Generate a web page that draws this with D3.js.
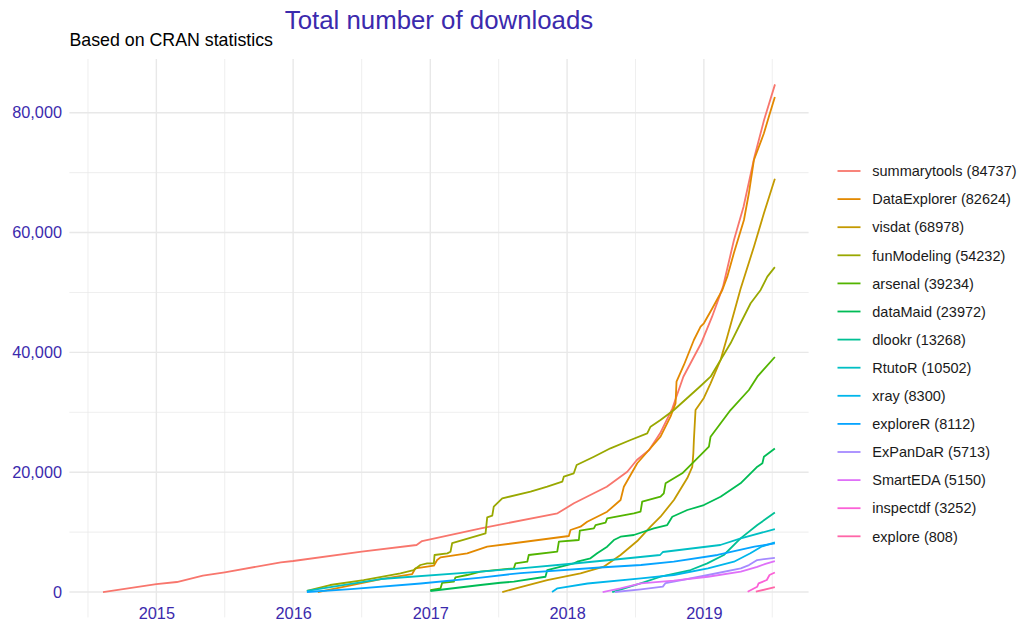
<!DOCTYPE html>
<html><head><meta charset="utf-8">
<script src="https://cdn.jsdelivr.net/npm/d3@7"></script>
<style>
body{margin:0;background:#fff;}
svg{display:block;}
text{font-family:"Liberation Sans", Arial, Helvetica, sans-serif;}
</style>
</head><body>
<svg id="chart" width="1020" height="642"></svg>
<script>
// ---------------- data (decimal year, cumulative downloads) ----------------
const packages = ["summarytools","DataExplorer","visdat","funModeling","arsenal","dataMaid","dlookr","RtutoR","xray","exploreR","ExPanDaR","SmartEDA","inspectdf","explore"];
const totals = [84737,82624,68978,54232,39234,23972,13268,10502,8300,8112,5713,5150,3252,808];
const yTickValues = [0,20000,40000,60000,80000];
const xTickYears = [2015,2016,2017,2018,2019];

const summarytools = [[2014.61,0],[2015.0,1300],[2015.15,1670],[2015.34,2720],[2015.5,3290],[2015.91,4960],[2016.0,5180],[2016.5,6730],[2016.9,7850],[2016.94,8510],[2017.37,10630],[2017.93,13140],[2018.05,14810],[2018.29,17580],[2018.44,20080],[2018.51,22040],[2018.6,23710],[2018.68,26490],[2018.77,30670],[2018.85,35940],[2018.98,41520],[2019.06,45960],[2019.14,50970],[2019.22,58760],[2019.29,64320],[2019.37,72670],[2019.44,78800],[2019.52,84737]];
const DataExplorer = [[2016.18,0],[2016.64,2170],[2016.868,3000],[2016.892,3960],[2017.026,4390],[2017.05,5340],[2017.075,5790],[2017.27,6460],[2017.416,7560],[2018.013,9350],[2018.025,10350],[2018.098,10900],[2018.147,11740],[2018.293,13410],[2018.391,15360],[2018.415,17580],[2018.513,21490],[2018.598,23710],[2018.683,25930],[2018.756,29270],[2018.793,31500],[2018.80,35110],[2018.854,37900],[2018.927,42070],[2018.976,44290],[2019.0,44860],[2019.062,47360],[2019.135,50420],[2019.171,52640],[2019.219,56540],[2019.293,62100],[2019.329,66560],[2019.366,72120],[2019.439,76570],[2019.475,79350],[2019.519,82624]];
const visdat = [[2017.526,0],[2017.66,830],[2017.855,2000],[2018.098,3120],[2018.268,4220],[2018.391,6180],[2018.513,8510],[2018.61,10900],[2018.683,12570],[2018.781,15360],[2018.879,19030],[2018.915,20870],[2018.923,23150],[2018.927,25370],[2018.939,30380],[2019.0,32390],[2019.049,34840],[2019.122,38730],[2019.171,42620],[2019.219,46530],[2019.268,50580],[2019.366,57640],[2019.439,63220],[2019.519,68978]];
const funModeling = [[2016.10,200],[2016.27,1170],[2016.514,2000],[2016.782,3120],[2016.879,3670],[2016.928,4510],[2016.977,4790],[2017.026,4790],[2017.031,6180],[2017.124,6460],[2017.148,6730],[2017.16,8180],[2017.404,9800],[2017.416,12470],[2017.453,12740],[2017.464,14240],[2017.526,15640],[2017.733,16740],[2017.855,17580],[2017.965,18410],[2017.976,19250],[2018.049,19820],[2018.07,21200],[2018.196,22590],[2018.317,23990],[2018.464,25370],[2018.586,26490],[2018.61,27600],[2018.683,28710],[2018.781,30380],[2018.903,32890],[2018.976,34390],[2019.049,35940],[2019.122,38730],[2019.195,41520],[2019.268,44860],[2019.342,48200],[2019.415,50420],[2019.464,52640],[2019.519,54232]];
const arsenal = [[2017.0,330],[2017.075,620],[2017.087,1550],[2017.172,1720],[2017.184,2450],[2017.27,2840],[2017.367,3390],[2017.611,3960],[2017.623,4790],[2017.709,5060],[2017.72,6180],[2017.928,6730],[2017.94,8400],[2018.086,8680],[2018.093,10230],[2018.196,10630],[2018.208,11180],[2018.281,11570],[2018.293,12300],[2018.488,13140],[2018.537,13410],[2018.549,15070],[2018.683,15910],[2018.707,16480],[2018.72,18150],[2018.842,19820],[2018.915,21490],[2018.988,23150],[2019.037,24260],[2019.049,25930],[2019.195,30380],[2019.329,33720],[2019.391,35940],[2019.519,39234]];
const dataMaid = [[2017.0,170],[2017.367,1170],[2017.513,1550],[2017.611,1720],[2017.842,2550],[2017.855,3670],[2018.049,4790],[2018.074,5060],[2018.171,5630],[2018.22,6460],[2018.293,7560],[2018.342,8680],[2018.391,9230],[2018.488,9520],[2018.634,10630],[2018.732,11180],[2018.769,12570],[2018.879,13690],[2019.0,14520],[2019.122,15910],[2019.268,18150],[2019.391,20920],[2019.428,21490],[2019.439,22590],[2019.519,23972]];
const dlookr = [[2018.33,0],[2018.537,1450],[2018.683,2550],[2018.903,3670],[2019.025,4790],[2019.146,6180],[2019.268,8960],[2019.391,11180],[2019.519,13268]];
const RtutoR = [[2016.10,200],[2016.64,2170],[2017.37,3390],[2017.66,3960],[2018.05,4760],[2018.39,5510],[2018.68,6180],[2018.70,6680],[2019.12,7850],[2019.27,8960],[2019.519,10502]];
const xray = [[2017.89,0],[2017.93,620],[2018.15,1420],[2018.54,2290],[2018.78,2840],[2019.03,3960],[2019.22,5060],[2019.34,6460],[2019.42,7560],[2019.519,8300]];
const exploreR = [[2016.10,0],[2016.42,500],[2016.93,1420],[2017.37,2420],[2017.66,3170],[2018.24,4090],[2018.54,4510],[2018.78,5060],[2019.10,6180],[2019.37,7560],[2019.519,8112]];
const ExPanDaR = [[2018.35,0],[2018.54,450],[2018.70,900],[2018.72,1500],[2018.78,1720],[2019.03,2840],[2019.27,3960],[2019.33,4500],[2019.39,5340],[2019.519,5713]];
const SmartEDA = [[2018.26,0],[2018.39,620],[2018.54,1450],[2018.78,1900],[2019.03,2550],[2019.27,3390],[2019.39,4200],[2019.45,4700],[2019.519,5150]];
const inspectdf = [[2019.32,50],[2019.39,880],[2019.40,1450],[2019.46,2000],[2019.48,2840],[2019.519,3252]];
const explore = [[2019.38,50],[2019.519,808]];

const seriesValues = [summarytools,DataExplorer,visdat,funModeling,arsenal,dataMaid,dlookr,RtutoR,xray,exploreR,ExPanDaR,SmartEDA,inspectdf,explore];

// ---------------- helpers ----------------
function yearToDate(y){
  const Y = Math.floor(y);
  const s = Date.UTC(Y,0,1), e = Date.UTC(Y+1,0,1);
  return new Date(s + (y - Y) * (e - s));
}
// R's hcl() (polar CIE-LUV) -> hex
function hclR(h, c, l){
  const Yn = 100, uN = 0.1978398, vN = 0.4683363;
  const hr = h * Math.PI / 180;
  const U = c * Math.cos(hr), V = c * Math.sin(hr);
  const Y = l > 7.999592 ? Yn * Math.pow((l + 16) / 116, 3) : Yn * l / 903.3;
  const u = U / (13 * l) + uN, v = V / (13 * l) + vN;
  const X = 9 * Y * u / (4 * v);
  const Z = -X / 3 - 5 * Y + 3 * Y / v;
  const gt = t => t > 0.00304 ? 1.055 * Math.pow(t, 1 / 2.4) - 0.055 : 12.92 * t;
  const cl = t => Math.round(255 * Math.max(0, Math.min(1, t)));
  const r = gt(( 3.240479 * X - 1.537150 * Y - 0.498535 * Z) / Yn);
  const g = gt((-0.969256 * X + 1.875992 * Y + 0.041556 * Z) / Yn);
  const b = gt(( 0.055648 * X - 0.204043 * Y + 1.057311 * Z) / Yn);
  return d3.rgb(cl(r), cl(g), cl(b)).formatHex();
}
const colors = packages.map((p, i) => hclR(15 + i * 360 / packages.length, 100, 65));

// ---------------- layout ----------------
const W = 1020, H = 642;
const panel = {left: 69.4, right: 808.6, top: 59, bottom: 617.4};
const accent = "#3b2aad";
const gridCol = "#e8e8e8";

const series = packages.map((name, i) => ({
  name, total: totals[i], color: colors[i],
  values: seriesValues[i].map(d => ({date: yearToDate(d[0]), value: d[1]}))
}));

const allDates = series.flatMap(s => s.values.map(v => v.date));
const [dMin, dMax] = d3.extent(allDates);
const span = dMax - dMin;
const x = d3.scaleUtc()
  .domain([new Date(+dMin - 0.05 * span), new Date(+dMax + 0.05 * span)])
  .range([panel.left, panel.right]);

const vMax = d3.max(series, s => d3.max(s.values, v => v.value));
const y = d3.scaleLinear()
  .domain([0 - 0.05 * vMax, vMax * 1.05])
  .range([panel.bottom, panel.top]);

const svg = d3.select("#chart");
svg.append("rect").attr("width", W).attr("height", H).attr("fill", "#fff");

// grid
const gGrid = svg.append("g");
const yMinor = [];
for (let i = 0; i < yTickValues.length + 1; i++) {
  const step = yTickValues[1] - yTickValues[0];
  const m = (i - 0.5) * step;
  if (m >= y.domain()[0] && m <= y.domain()[1]) yMinor.push(m);
}
const xMajor = xTickYears.map(yy => yearToDate(yy));
const xMinor = [];
for (let yy = xTickYears[0] - 1; yy <= xTickYears[xTickYears.length - 1]; yy++) {
  const a = Date.UTC(yy, 0, 1), b = Date.UTC(yy + 1, 0, 1);
  const m = new Date((a + b) / 2);
  if (m >= x.domain()[0] && m <= x.domain()[1]) xMinor.push(m);
}
gGrid.selectAll(".ymin").data(yMinor).join("line")
  .attr("x1", panel.left).attr("x2", panel.right)
  .attr("y1", d => y(d)).attr("y2", d => y(d))
  .attr("stroke", gridCol).attr("stroke-width", 0.75);
gGrid.selectAll(".xmin").data(xMinor).join("line")
  .attr("y1", panel.top).attr("y2", panel.bottom)
  .attr("x1", d => x(d)).attr("x2", d => x(d))
  .attr("stroke", gridCol).attr("stroke-width", 0.75);
gGrid.selectAll(".ymaj").data(yTickValues).join("line")
  .attr("x1", panel.left).attr("x2", panel.right)
  .attr("y1", d => y(d)).attr("y2", d => y(d))
  .attr("stroke", gridCol).attr("stroke-width", 1.4);
gGrid.selectAll(".xmaj").data(xMajor).join("line")
  .attr("y1", panel.top).attr("y2", panel.bottom)
  .attr("x1", d => x(d)).attr("x2", d => x(d))
  .attr("stroke", gridCol).attr("stroke-width", 1.4);

// axes (text only, no domain/ticks)
const yAxis = d3.axisLeft(y).tickValues(yTickValues).tickFormat(d3.format(",")).tickSize(0).tickPadding(7.4);
const gy = svg.append("g").attr("transform", `translate(${panel.left},0)`).call(yAxis);
gy.select(".domain").remove();
gy.selectAll("text").attr("fill", accent).style("font-size", "16.3px")
  .style("font-family", '"Liberation Sans", Arial, sans-serif');

const xAxis = d3.axisBottom(x).tickValues(xMajor).tickFormat(d3.utcFormat("%Y")).tickSize(0).tickPadding(-10);
const gx = svg.append("g").attr("transform", `translate(0,${panel.bottom})`).call(xAxis);
gx.select(".domain").remove();
gx.selectAll("text").attr("fill", accent).style("font-size", "16.3px")
  .style("font-family", '"Liberation Sans", Arial, sans-serif');

// lines
const line = d3.line().x(d => x(d.date)).y(d => y(d.value));
svg.append("g").selectAll("path").data(series).join("path")
  .attr("d", d => line(d.values))
  .attr("fill", "none")
  .attr("stroke", d => d.color)
  .attr("stroke-width", 1.8)
  .attr("stroke-linejoin", "round")
  .attr("stroke-linecap", "butt");

// title & subtitle
svg.append("text").attr("x", (panel.left + panel.right) / 2).attr("y", 29.3)
  .attr("text-anchor", "middle").attr("fill", accent)
  .style("font-size", "25.8px").text("Total number of downloads");
svg.append("text").attr("x", panel.left).attr("y", 46)
  .attr("fill", "#000").style("font-size", "17.8px").text("Based on CRAN statistics");

// legend
const legendTop = 171, legendStep = 28.1;
const lg = svg.append("g");
const items = lg.selectAll("g").data(series).join("g")
  .attr("transform", (d, i) => `translate(0,${legendTop + i * legendStep})`);
items.append("line").attr("x1", 837.5).attr("x2", 860.5).attr("y1", 0).attr("y2", 0)
  .attr("stroke", d => d.color).attr("stroke-width", 1.8);
items.append("text").attr("x", 872.3).attr("y", 0).attr("dy", "0.36em")
  .attr("fill", "#1a1a1a").style("font-size", "14.5px")
  .text(d => `${d.name} (${d.total})`);
</script>
</body></html>
